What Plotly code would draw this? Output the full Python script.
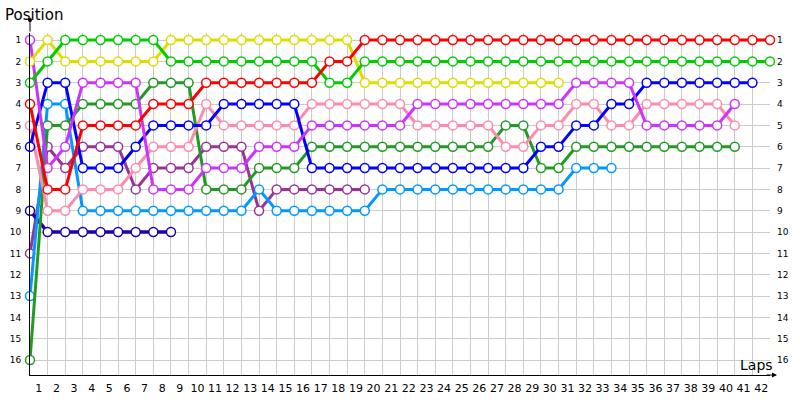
import plotly.graph_objects as go

# position per lap, starting with the grid (lap 0)
red = [4, 8, 8, 5, 5, 5, 5, 4, 4, 4, 3, 3, 3, 3, 3, 3, 3, 2, 2,
       1, 1, 1, 1, 1, 1, 1, 1, 1, 1, 1, 1, 1, 1, 1, 1, 1, 1, 1, 1, 1, 1, 1, 1]
green = [3, 2, 1, 1, 1, 1, 1, 1, 2, 2, 2, 2, 2, 2, 2, 2, 2, 3, 3,
         2, 2, 2, 2, 2, 2, 2, 2, 2, 2, 2, 2, 2, 2, 2, 2, 2, 2, 2, 2, 2, 2, 2, 2]
yellow = [2, 1, 2, 2, 2, 2, 2, 2, 1, 1, 1, 1, 1, 1, 1, 1, 1, 1, 1,
          3, 3, 3, 3, 3, 3, 3, 3, 3, 3, 3, 3]
violet = [1, 7, 6, 3, 3, 3, 3, 8, 8, 8, 7, 7, 7, 6, 6, 6, 5, 5, 5, 5, 5, 5,
          4, 4, 4, 4, 4, 4, 4, 4, 4, 3, 3, 3, 3, 5, 5, 5, 5, 5, 4]
blue = [6, 3, 3, 7, 7, 7, 6, 5, 5, 5, 5, 4, 4, 4, 4, 4,
        7, 7, 7, 7, 7, 7, 7, 7, 7, 7, 7, 7, 7, 6, 6, 5, 5, 4, 4, 3, 3, 3, 3, 3, 3, 3]
pink = [5, 9, 9, 8, 8, 8, 7, 6, 6, 6, 4, 5, 5, 5, 5, 5, 4, 4, 4, 4, 4, 4,
        5, 5, 5, 5, 5, 6, 6, 5, 5, 4, 4, 5, 5, 4, 4, 4, 4, 4, 5]
dark_green = [16, 5, 5, 4, 4, 4, 4, 3, 3, 3, 8, 8, 8, 7, 7, 7,
              6, 6, 6, 6, 6, 6, 6, 6, 6, 6, 6, 5, 5, 7, 7, 6, 6, 6, 6, 6, 6, 6, 6, 6, 6]
light_blue = [13, 4, 4, 9, 9, 9, 9, 9, 9, 9, 9, 9, 9, 8, 9, 9, 9, 9, 9, 9,
              8, 8, 8, 8, 8, 8, 8, 8, 8, 8, 8, 7, 7, 7]
purple = [11, 6, 7, 6, 6, 6, 8, 7, 7, 7, 6, 6, 6, 9, 8, 8, 8, 8, 8, 8]
navy = [9, 10, 10, 10, 10, 10, 10, 10, 10]

series = [purple, navy, light_blue, dark_green, pink, blue, violet, yellow, green, red]
names = ["Purple", "Navy", "Light blue", "Dark green", "Pink", "Blue",
         "Violet", "Yellow", "Green", "Red"]
colors = ["#993399", "#2200aa", "#0099ff", "#229922", "#ff8aab", "#0000ff",
          "#cc33ff", "#dddd00", "#00cc00", "#ff0000"]

lap_labels = [str(n) for n in range(1, 43)]
positions = list(range(1, 17))

fig = go.Figure()
for name, pos, col in zip(names, series, colors):
    fig.add_trace(go.Scatter(
        x=list(range(len(pos))), y=pos, name=name, mode="lines+markers",
        line=dict(color=col, width=3.5 if name == "Navy" else 3),
        marker=dict(symbol="circle", size=9, color="white",
                    line=dict(color=col, width=1.5)),
        cliponaxis=False, showlegend=False,
        # the leader goes on the right-hand axis so that axis gets drawn
        yaxis="y2" if name == "Red" else "y",
    ))

yrange = [16.7, 0.67]
tickfont = dict(family="DejaVu Sans", size=9, color="black")
fig.update_layout(
    width=800, height=400,
    margin=dict(l=30, r=30, t=33, b=25, autoexpand=False),
    paper_bgcolor="white", plot_bgcolor="white",
    xaxis=dict(
        range=[0, 42], showgrid=False, zeroline=False, automargin=False,
        tickvals=[n - 0.5 for n in range(1, 43)], ticktext=lap_labels, ticks="",
        tickfont=dict(family="DejaVu Sans", size=11, color="black"),
        ticklabelstandoff=3,
        showline=True, linecolor="black", linewidth=1,
        minor=dict(tickvals=list(range(1, 43)), showgrid=True,
                   gridcolor="#cccccc", gridwidth=1, ticks=""),
    ),
    yaxis=dict(
        range=yrange, tickvals=positions, ticks="", tickfont=tickfont,
        ticklabelstandoff=6, automargin=False,
        showgrid=True, gridcolor="#cccccc", gridwidth=1, zeroline=False,
        showline=True, linecolor="black", linewidth=1,
    ),
    yaxis2=dict(
        range=yrange, overlaying="y", side="right", tickvals=positions,
        ticks="", tickfont=tickfont, ticklabelstandoff=6, automargin=False,
        showgrid=False, zeroline=False, showline=False,
    ),
    annotations=[
        dict(text="Position", xref="paper", yref="paper", x=-0.037, y=1.053,
             xanchor="left", yanchor="middle", showarrow=False,
             font=dict(family="DejaVu Sans", size=15, color="black")),
        dict(text="Laps", xref="paper", yref="paper", x=0.982, y=0.03,
             xanchor="center", yanchor="middle", showarrow=False,
             font=dict(family="DejaVu Sans", size=14, color="black")),
        dict(text="", xref="x", yref="paper", x=0, y=1 + 13 / 342,
             ax=0, ay=13, showarrow=True, arrowhead=6, arrowsize=1,
             arrowwidth=1, arrowcolor="black"),
        dict(text="", xref="paper", yref="paper", x=1.0095, y=0,
             ax=-12, ay=0, showarrow=True, arrowhead=2, arrowsize=1,
             arrowwidth=1, arrowcolor="black"),
    ],
)

fig.write_html("out.html", config={"displayModeBar": False},
               post_script="document.body.style.margin='0';")
